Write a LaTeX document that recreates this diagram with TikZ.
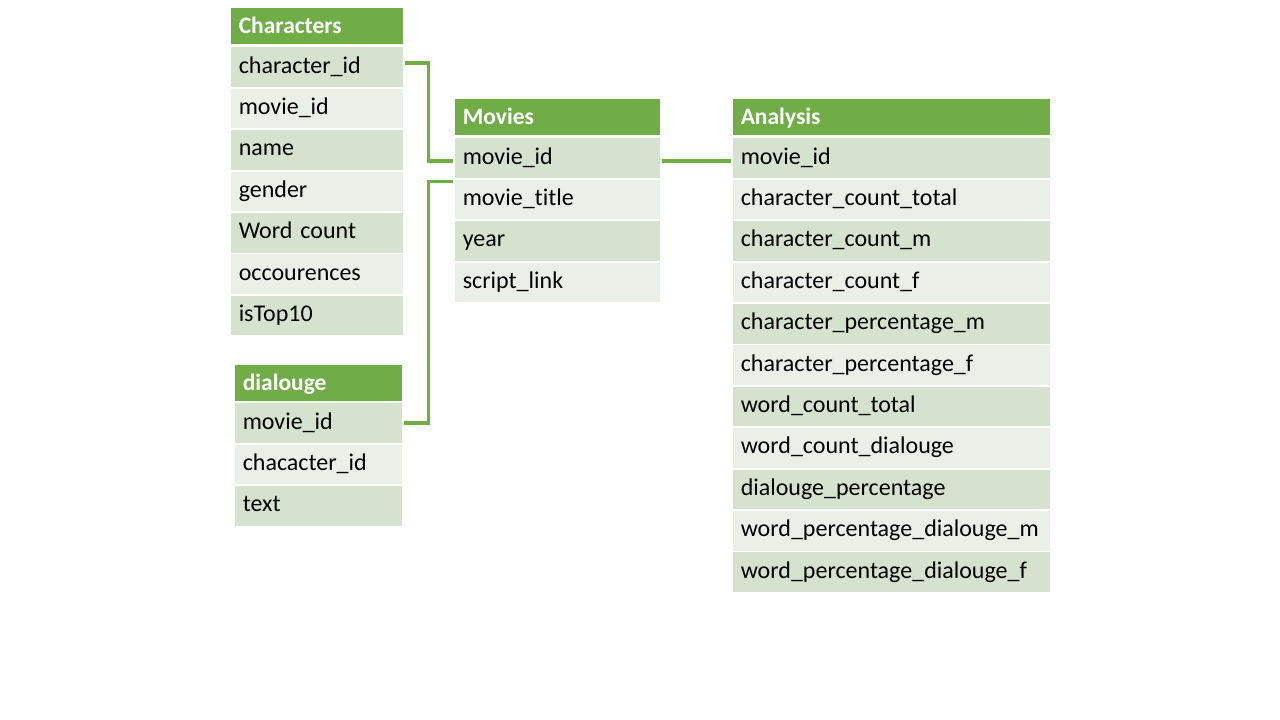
\documentclass[tikz,border=0pt]{standalone}
\usepackage{fontspec}
\setmainfont{Carlito}[Ligatures=NoCommon]
\usepackage{tikz}

\definecolor{hdgreen}{HTML}{70AD47}
\definecolor{rowdark}{HTML}{D5E3CE}
\definecolor{rowlight}{HTML}{EAF0E7}

\begin{document}
\begin{tikzpicture}[x=1pt,y=-1pt,thick,
        cell/.style={draw=white,line width=1.5pt,inner xsep=9pt,inner ysep=0pt,
            minimum height=41pt,align=left,anchor=north west,
            text height=16pt,text depth=4pt,
            font=\fontsize{24}{28}\selectfont},
        head/.style={cell,fill=hdgreen,text=white,minimum height=37pt,
            text height=19pt,text depth=3pt,
            font=\fontsize{23.5}{28}\selectfont\bfseries},
        row1/.style={cell,fill=rowdark},
        row0/.style={cell,fill=rowlight},
        link/.style={draw=hdgreen,line width=3.5pt}]

    \useasboundingbox (0,0) rectangle (1280,720);

    % Characters
    \node[head,text width=156pt] (chars) at (229,6.5) {Characters};
    \foreach \t [count=\i, evaluate=\i as \r using {int(mod(\i,2))}] in
        {character\_id,movie\_id,name,gender,Word count,occourences,isTop10}
        \node[row\r,text width=156pt] (chars-\i) at (229,4.5+41.4*\i) {\t};

    % dialouge
    \node[head,text width=151pt] (dlg) at (233,363.5) {dialouge};
    \foreach \t [count=\i, evaluate=\i as \r using {int(mod(\i,2))}] in
        {movie\_id,chacacter\_id,text}
        \node[row\r,text width=151pt] (dlg-\i) at (233,360.5+41.4*\i) {\t};

    % Movies
    \node[head,text width=189pt] (movies) at (453,97.5) {Movies};
    \foreach \t [count=\i, evaluate=\i as \r using {int(mod(\i,2))}] in
        {movie\_id,movie\_title,year,script\_link}
        \node[row\r,text width=189pt] (movies-\i) at (453,95.5+41.4*\i) {\t};

    % Analysis
    \node[head,text width=301pt] (analysis) at (731,97.5) {Analysis};
    \foreach \t [count=\i, evaluate=\i as \r using {int(mod(\i,2))}] in
        {movie\_id,character\_count\_total,character\_count\_m,character\_count\_f,
         character\_percentage\_m,character\_percentage\_f,word\_count\_total,
         word\_count\_dialouge,dialouge\_percentage,word\_percentage\_dialouge\_m,
         word\_percentage\_dialouge\_f}
        \node[row\r,text width=301pt] (analysis-\i) at (731,95.5+41.4*\i) {\t};

    % keys
    \draw[link] ([yshift=4pt]chars-1.east) -- ++(24,0) |- ([yshift=-3pt]movies-1.west);
    \draw[link] (dlg-1.east) -- ++(25,0) |- ([yshift=-3pt]movies-2.north west);
    \draw[link] ([yshift=-3pt]movies-1.east) -- ([yshift=-3pt]analysis-1.west);

\end{tikzpicture}
\end{document}
